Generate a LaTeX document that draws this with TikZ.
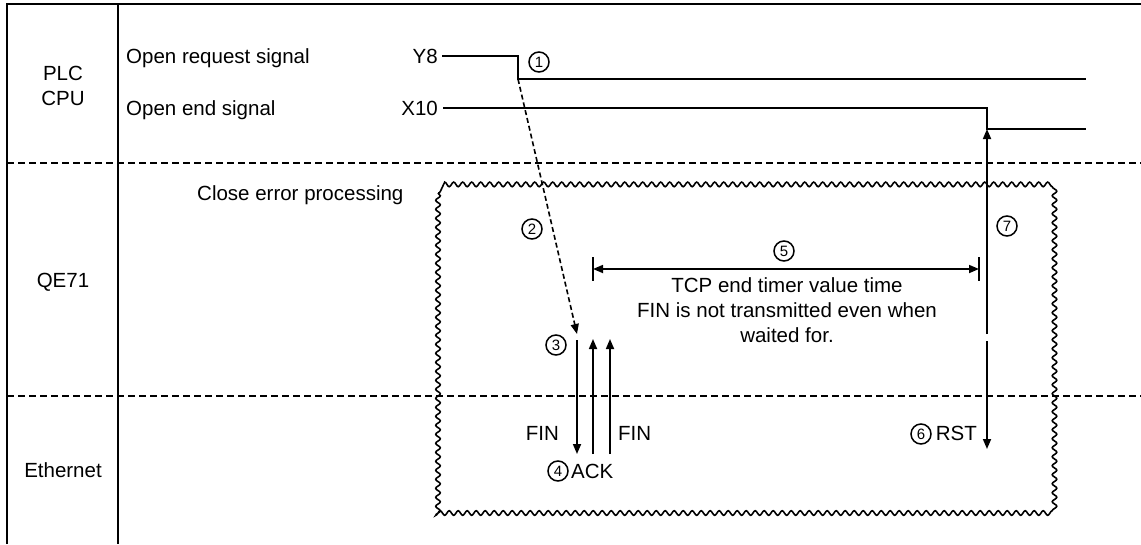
\documentclass[tikz,border=0pt]{standalone}
\usepackage{fontspec}
\setmainfont{Liberation Sans}
\usetikzlibrary{arrows.meta,decorations.pathmorphing}
\begin{document}
\begin{tikzpicture}[x=1pt,y=-1pt,
  font=\fontsize{20.5}{24}\selectfont,
  >={Triangle[length=10pt,width=8pt]},
  frame/.style={line width=2.2pt},
  sepline/.style={line width=1.6pt, dash pattern=on 7pt off 4pt},
  sig/.style={line width=2pt},
  lbl/.style={inner sep=0pt},
  num/.style={circle, draw, line width=1.5pt, minimum size=20pt, inner sep=0pt, font=\fontsize{15}{15}\selectfont},
  wavy/.style={line width=1.6pt, decorate, decoration={snake, segment length=9pt, amplitude=2.3pt}},
  arr/.style={line width=1.7pt, ->},
  dasharr/.style={line width=1.6pt, ->, dash pattern=on 5pt off 3pt},
]
\useasboundingbox (0,0) rectangle (1141,544);

% frame
\coordinate (tl) at (7,4);
\coordinate (tr) at (1141,4);
\coordinate (bl) at (7,544);
\coordinate (ct) at (118,4);
\coordinate (cb) at (118,544);
\draw[frame] (bl) -- (tl) -- (tr);
\draw[frame] (ct) -- (cb);

% separators
\coordinate (s1l) at (7,163);
\coordinate (s1r) at (1141,163);
\coordinate (s2l) at (7,396);
\coordinate (s2r) at (1141,396);
\draw[sepline] (s1l) -- (s1r);
\draw[sepline] (s2l) -- (s2r);

% row labels
\node[lbl, anchor=base] (plc) at (63,80) {PLC};
\node[lbl, anchor=base] (cpu) at (63,105) {CPU};
\node[lbl, anchor=base] (qe) at (63,287) {QE71};
\node[lbl, anchor=base] (eth) at (63,477) {Ethernet};

% signals
\node[lbl, anchor=base west] (ors) at (126,63) {Open request signal};
\node[lbl, anchor=base west] (oes) at (126,115) {Open end signal};
\node[lbl, anchor=base east] (y8) at (438,63) {Y8};
\node[lbl, anchor=base east] (x10) at (438,115) {X10};

\coordinate (y8s) at (442,56);
\coordinate (y8a) at (518,56);
\coordinate (y8b) at (518,79);
\coordinate (y8e) at (1086,79);
\draw[sig] (y8s) -- (y8a) -- (y8b) -- (y8e);

\coordinate (x10s) at (443,108);
\coordinate (x10a) at (987,108);
\coordinate (x10b) at (987,129);
\coordinate (x10e) at (1086,129);
\draw[sig] (x10s) -- (x10a) -- (x10b) -- (x10e);

% wavy box
\coordinate (wa) at (438,193);
\coordinate (wb) at (1053,515);
\draw[wavy] (wa) rectangle (wb);
\node[lbl, anchor=base west] (cep) at (197,200) {Close error processing};

% numbered markers
\node[num] (n1) at (539,62) {1};
\node[num] (n2) at (532,229) {2};
\node[num] (n3) at (556,345) {3};
\node[num] (n4) at (558,471) {4};
\node[num] (n5) at (784,251) {5};
\node[num] (n6) at (921,434) {6};
\node[num] (n7) at (1007,226) {7};

% dashed arrow (2)
\coordinate (p3) at (577,334);
\draw[dasharr] (y8b) -- (p3);

% FIN / ACK arrows
\coordinate (f1t) at (577,340);
\coordinate (f1b) at (577,454);
\coordinate (a1b) at (593,454);
\coordinate (a1t) at (593,339);
\coordinate (a2b) at (610,454);
\coordinate (a2t) at (610,339);
\draw[arr] (f1t) -- (f1b);
\draw[arr] (a1b) -- (a1t);
\draw[arr] (a2b) -- (a2t);
\node[lbl, anchor=base east] (finl) at (559,440) {FIN};
\node[lbl, anchor=base west] (finr) at (618,440) {FIN};
\node[lbl, anchor=base west] (ack) at (571,478) {ACK};

% timer dimension (5)
\coordinate (dl) at (593,269);
\coordinate (dr) at (979,269);
\coordinate (dlt) at (593,257);
\coordinate (dlb) at (593,281);
\coordinate (drt) at (979,257);
\coordinate (drb) at (979,281);
\draw[arr, <->] (dl) -- (dr);
\draw[line width=1.7pt] (dlt) -- (dlb);
\draw[line width=1.7pt] (drt) -- (drb);
\node[lbl, anchor=base] (t1) at (787,292) {TCP end timer value time};
\node[lbl, anchor=base] (t2) at (787,317) {FIN is not transmitted even when};
\node[lbl, anchor=base] (t3) at (787,342) {waited for.};

% (7) and (6)
\coordinate (v7b) at (987,334);
\coordinate (v6t) at (987,341);
\coordinate (v6b) at (987,449);
\draw[arr] (v7b) -- (x10b);
\draw[arr] (v6t) -- (v6b);
\node[lbl, anchor=base east] (rst) at (977,440) {RST};
\end{tikzpicture}
\end{document}
